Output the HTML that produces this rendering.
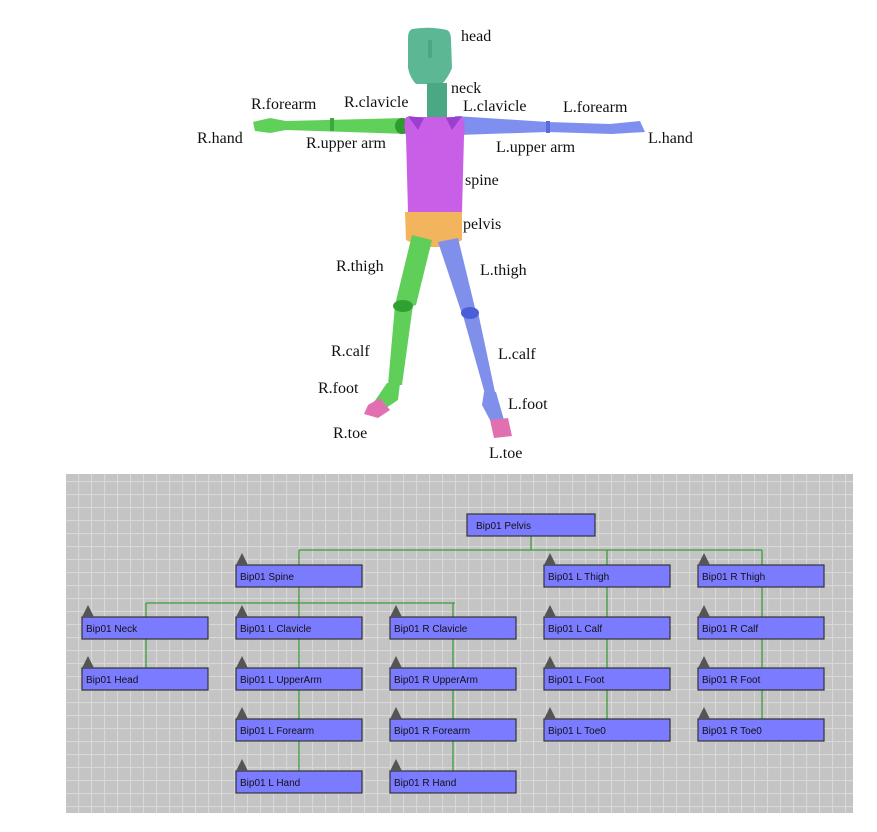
<!DOCTYPE html><html><head><style>body{margin:0;background:#fff}svg{display:block}</style></head><body>
<svg width="877" height="832" xmlns="http://www.w3.org/2000/svg">
<defs>
<pattern id="g" width="13" height="13" patternUnits="userSpaceOnUse"><rect width="13" height="13" fill="#c4c4c4"/><path d="M0 0.5H13M0.5 0V13" stroke="#d8d8d8" stroke-width="1.2"/></pattern>
</defs>
<g stroke="none">
<path d="M253 122 L270 118 L286 121 L405 118 L408 134 L286 130 L270 133 L255 131Z" fill="#5fd15a"/>
<rect x="330" y="118" width="4" height="13" fill="#3aa83a"/>
<ellipse cx="402" cy="126" rx="7" ry="8" fill="#2f9a30"/>
<path d="M455 116 L548 122 L610 124 L640 121 L645 132 L612 134 L548 132 L458 135Z" fill="#7f8ff0"/>
<rect x="546" y="121" width="4" height="12" fill="#5a6ae0"/>
<path d="M412 29 Q430 26 447 30 Q451 32 451 40 L452 68 Q448 78 442 84 L416 84 Q410 78 408 68 L408 38 Q408 31 412 29Z" fill="#5cb894"/>
<path d="M428 40 L432 40 L432 58 L428 58Z" fill="#4aa884"/>
<rect x="427" y="83" width="20" height="34" fill="#4aa884"/>
<path d="M406 117 L462 117 Q466 124 464 136 L462 212 L408 212 L406 136 Q403 124 406 117Z" fill="#c85fe6"/>
<path d="M408 116 L424 118 L418 130Z M462 116 L446 118 L452 130Z" fill="#9a3fd0"/>
<path d="M405 212 L462 212 L462 240 L450 247 L420 247 L406 240Z" fill="#f2b45c"/>
<path d="M412 235 L432 240 L416 305 L400 310 L395 305Z" fill="#5fcf5a"/>
<path d="M395 305 L413 305 L402 385 L388 385Z" fill="#5fcf5a"/>
<ellipse cx="403" cy="306" rx="10" ry="6" fill="#30a033"/>
<path d="M387 383 L400 383 L398 400 L383 410 L372 405Z" fill="#5fcf5a"/>
<path d="M368 405 L380 398 L390 410 L378 418 L364 414Z" fill="#e070b0"/>
<path d="M438 242 L458 238 L475 308 L462 314Z" fill="#8090ea"/>
<path d="M462 312 L478 312 L495 392 L485 394Z" fill="#8090ea"/>
<ellipse cx="470" cy="313" rx="9" ry="6" fill="#4a5ed8"/>
<path d="M484 392 L496 392 L504 420 L490 420 L482 405Z" fill="#8090ea"/>
<path d="M490 420 L508 418 L512 436 L494 438Z" fill="#e070b0"/>
</g>
<g font-family="Liberation Serif, serif" font-size="16" fill="#111">
<text x="461" y="41">head</text><text x="451" y="93">neck</text>
<text x="251" y="109">R.forearm</text><text x="344" y="107">R.clavicle</text>
<text x="463" y="111">L.clavicle</text><text x="563" y="112">L.forearm</text>
<text x="197" y="143">R.hand</text><text x="648" y="143">L.hand</text>
<text x="306" y="148">R.upper arm</text><text x="496" y="152">L.upper arm</text>
<text x="465" y="185">spine</text><text x="463" y="229">pelvis</text>
<text x="336" y="271">R.thigh</text><text x="480" y="275">L.thigh</text>
<text x="331" y="356">R.calf</text><text x="498" y="359">L.calf</text>
<text x="318" y="393">R.foot</text><text x="508" y="409">L.foot</text>
<text x="333" y="438">R.toe</text><text x="489" y="458">L.toe</text>
</g>
<rect x="66" y="474" width="787" height="339" fill="url(#g)"/>
<g stroke="#3c9c3c" stroke-width="1.3" fill="none">
<path d="M531 536V550M299 550H762M299 550V565M607 550V565M762 550V565"/>
<path d="M299 587V603M146 603H455M146 603V617M299 603V617M453 603V617"/>
<path d="M146 639V668M299 639V771M453 639V771M607 587V719M762 587V719"/>
</g>
<g fill="#7b7bff" stroke="#333" stroke-width="1.2">
<rect x="467" y="514" width="128" height="22"/>
<rect x="236" y="565" width="126" height="22"/><rect x="544" y="565" width="126" height="22"/><rect x="698" y="565" width="126" height="22"/>
<rect x="82" y="617" width="126" height="22"/><rect x="236" y="617" width="126" height="22"/><rect x="390" y="617" width="126" height="22"/><rect x="544" y="617" width="126" height="22"/><rect x="698" y="617" width="126" height="22"/>
<rect x="82" y="668" width="126" height="22"/><rect x="236" y="668" width="126" height="22"/><rect x="390" y="668" width="126" height="22"/><rect x="544" y="668" width="126" height="22"/><rect x="698" y="668" width="126" height="22"/>
<rect x="236" y="719" width="126" height="22"/><rect x="390" y="719" width="126" height="22"/><rect x="544" y="719" width="126" height="22"/><rect x="698" y="719" width="126" height="22"/>
<rect x="236" y="771" width="126" height="22"/><rect x="390" y="771" width="126" height="22"/>
</g>
<g fill="#555">
<path d="M236 565l6-12 6 12ZM544 565l6-12 6 12ZM698 565l6-12 6 12Z"/>
<path d="M82 617l6-12 6 12ZM236 617l6-12 6 12ZM390 617l6-12 6 12ZM544 617l6-12 6 12ZM698 617l6-12 6 12Z"/>
<path d="M82 668l6-12 6 12ZM236 668l6-12 6 12ZM390 668l6-12 6 12ZM544 668l6-12 6 12ZM698 668l6-12 6 12Z"/>
<path d="M236 719l6-12 6 12ZM390 719l6-12 6 12ZM544 719l6-12 6 12ZM698 719l6-12 6 12Z"/>
<path d="M236 771l6-12 6 12ZM390 771l6-12 6 12Z"/>
</g>
<g font-family="Liberation Sans, sans-serif" font-size="10" fill="#111">
<text x="476" y="529">Bip01 Pelvis</text>
<text x="240" y="580">Bip01 Spine</text><text x="548" y="580">Bip01 L Thigh</text><text x="702" y="580">Bip01 R Thigh</text>
<text x="86" y="632">Bip01 Neck</text><text x="240" y="632">Bip01 L Clavicle</text><text x="394" y="632">Bip01 R Clavicle</text><text x="548" y="632">Bip01 L Calf</text><text x="702" y="632">Bip01 R Calf</text>
<text x="86" y="683">Bip01 Head</text><text x="240" y="683">Bip01 L UpperArm</text><text x="394" y="683">Bip01 R UpperArm</text><text x="548" y="683">Bip01 L Foot</text><text x="702" y="683">Bip01 R Foot</text>
<text x="240" y="734">Bip01 L Forearm</text><text x="394" y="734">Bip01 R Forearm</text><text x="548" y="734">Bip01 L Toe0</text><text x="702" y="734">Bip01 R Toe0</text>
<text x="240" y="786">Bip01 L Hand</text><text x="394" y="786">Bip01 R Hand</text>
</g>
</svg>
</body></html>
